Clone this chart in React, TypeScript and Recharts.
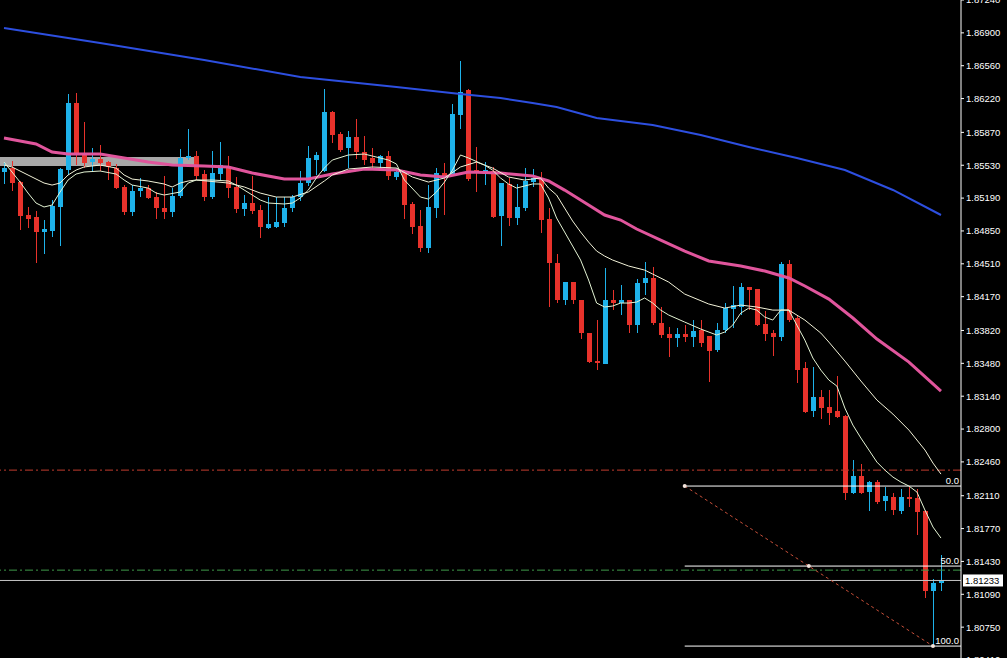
import { Bar, ComposedChart, Line, ReferenceArea, ReferenceDot, ReferenceLine, XAxis, YAxis } from "recharts";

const BULL = "#1eb2ea";
const BEAR = "#e8322b";
const FONT = "'Liberation Sans', Arial, sans-serif";

// OHLC, one entry per bar
const opens = [
  1.8546, 1.85501, 1.85356, 1.85015, 1.84994, 1.84839, 1.84849, 1.85098, 1.85481, 1.86174,
  1.85656, 1.85563, 1.85594, 1.85563, 1.85501, 1.85305, 1.85046, 1.85263, 1.85294, 1.85201,
  1.85087, 1.85046, 1.85211, 1.85605, 1.85625, 1.85439, 1.85201, 1.85439, 1.85522, 1.85305,
  1.85077, 1.85139, 1.85067, 1.8488, 1.84891, 1.84932, 1.85087, 1.85201, 1.85346, 1.85584,
  1.8547, 1.86081, 1.85853, 1.85708, 1.85822, 1.85667, 1.85605, 1.85553, 1.85625, 1.85408,
  1.8547, 1.85129, 1.84901, 1.84673, 1.85087, 1.85449, 1.85429, 1.8605, 1.86309, 1.85481,
  1.85439, 1.8547, 1.85004, 1.85336, 1.84984, 1.85087, 1.85356, 1.85398, 1.84973, 1.84518,
  1.84135, 1.84321, 1.84135, 1.83793, 1.83504, 1.83473, 1.84135, 1.84104, 1.84135, 1.83876,
  1.84311, 1.84363, 1.83897, 1.83783, 1.83742, 1.83783, 1.83752, 1.83825, 1.83762, 1.83618,
  1.83825, 1.84042, 1.84063, 1.8427, 1.84249, 1.83887, 1.83793, 1.83752, 1.84508, 1.83949,
  1.83431, 1.82986, 1.83131, 1.83028, 1.82986, 1.82934, 1.82137, 1.82313, 1.82148, 1.82251,
  1.82055, 1.82096, 1.81951, 1.82096, 1.82086, 1.81951, 1.81123, 1.81206,
];
const highs = [
  1.85563, 1.85574, 1.85367, 1.85098, 1.85056, 1.84963, 1.8517, 1.85501, 1.86267, 1.86277,
  1.85977, 1.85708, 1.85739, 1.85574, 1.85543, 1.85325, 1.85325, 1.85398, 1.85325, 1.85253,
  1.85418, 1.85294, 1.85698, 1.85905, 1.85677, 1.85481, 1.85677, 1.8577, 1.85625, 1.85408,
  1.85222, 1.85418, 1.85118, 1.85201, 1.85201, 1.85201, 1.85222, 1.8547, 1.85729, 1.85667,
  1.86319, 1.86091, 1.85874, 1.85884, 1.86008, 1.85832, 1.85708, 1.85636, 1.85677, 1.85501,
  1.85481, 1.85149, 1.85067, 1.85325, 1.85501, 1.85553, 1.86164, 1.86609, 1.86319, 1.85719,
  1.85563, 1.85512, 1.85346, 1.85398, 1.85336, 1.85501, 1.85491, 1.8546, 1.85087, 1.84611,
  1.84321, 1.84321, 1.84135, 1.83793, 1.83928, 1.84466, 1.84238, 1.8429, 1.84135, 1.84352,
  1.84528, 1.84477, 1.84063, 1.83856, 1.83845, 1.83876, 1.83928, 1.83928, 1.83762, 1.83897,
  1.84104, 1.8428, 1.84311, 1.8427, 1.84249, 1.84021, 1.83825, 1.84528, 1.84549, 1.83969,
  1.83493, 1.83442, 1.83204, 1.83204, 1.83348, 1.82945, 1.82479, 1.82438, 1.82262, 1.82272,
  1.822, 1.82137, 1.82179, 1.822, 1.82179, 1.81962, 1.81247, 1.81496,
];
const lows = [
  1.85336, 1.85263, 1.8486, 1.8488, 1.84518, 1.84611, 1.84787, 1.84694, 1.85429, 1.85532,
  1.85501, 1.8546, 1.8547, 1.85377, 1.85284, 1.85015, 1.85004, 1.85201, 1.8518, 1.84973,
  1.84973, 1.84994, 1.85191, 1.85584, 1.85377, 1.8516, 1.8518, 1.85377, 1.85191, 1.85035,
  1.85004, 1.85025, 1.84777, 1.8487, 1.8488, 1.84891, 1.85046, 1.8516, 1.85315, 1.85429,
  1.8546, 1.8576, 1.85667, 1.85501, 1.85594, 1.85532, 1.85501, 1.85501, 1.85377, 1.85377,
  1.84973, 1.84818, 1.84632, 1.84621, 1.84984, 1.85015, 1.85418, 1.85905, 1.85367, 1.85253,
  1.85325, 1.84984, 1.84694, 1.84901, 1.84911, 1.85056, 1.85305, 1.84828, 1.84063, 1.84104,
  1.84083, 1.84094, 1.83731, 1.83483, 1.8341, 1.83473, 1.84032, 1.8398, 1.83793, 1.83793,
  1.84187, 1.83876, 1.83742, 1.83545, 1.83649, 1.837, 1.83649, 1.83649, 1.83286, 1.83597,
  1.83793, 1.83845, 1.8398, 1.84032, 1.83866, 1.83711, 1.83555, 1.83711, 1.83907, 1.83276,
  1.82965, 1.82924, 1.82903, 1.82841, 1.82914, 1.82065, 1.82127, 1.82127, 1.81951, 1.82024,
  1.81951, 1.8191, 1.8192, 1.81993, 1.81703, 1.81051, 1.80554, 1.81123,
];
const closes = [
  1.85501, 1.85346, 1.85004, 1.84973, 1.84839, 1.8487, 1.85108, 1.85491, 1.86174, 1.85656,
  1.85553, 1.85594, 1.85553, 1.85512, 1.85294, 1.85046, 1.85263, 1.85294, 1.85191, 1.85087,
  1.85046, 1.85211, 1.85605, 1.85625, 1.85418, 1.85201, 1.85449, 1.85532, 1.85294, 1.85077,
  1.85139, 1.85056, 1.84891, 1.84922, 1.84942, 1.85087, 1.85201, 1.85346, 1.85605, 1.85636,
  1.86081, 1.85843, 1.85688, 1.85822, 1.85667, 1.85584, 1.85553, 1.85625, 1.85418, 1.8546,
  1.85118, 1.84891, 1.84673, 1.85098, 1.85449, 1.85418, 1.8606, 1.86288, 1.85387, 1.85449,
  1.85481, 1.84994, 1.85346, 1.84984, 1.85098, 1.85367, 1.85398, 1.84963, 1.84518, 1.84135,
  1.84321, 1.84135, 1.83793, 1.83493, 1.83483, 1.84135, 1.84104, 1.84135, 1.83876, 1.84311,
  1.84363, 1.83897, 1.83773, 1.83742, 1.83783, 1.83752, 1.83814, 1.8369, 1.83607, 1.83825,
  1.84052, 1.84083, 1.8427, 1.84238, 1.83876, 1.83783, 1.83752, 1.84508, 1.83928, 1.8341,
  1.82976, 1.83131, 1.83017, 1.82965, 1.82924, 1.82137, 1.82313, 1.82137, 1.82251, 1.82044,
  1.82106, 1.81962, 1.82096, 1.82075, 1.81941, 1.81123, 1.81206, 1.81233,
];

// moving averages, [bar index, price] read at points along each line
const blueMa: [number, number][] = [
  [0, 1.8695], [12, 1.86795], [25, 1.86619], [37, 1.86443], [49, 1.8634], [57, 1.86267],
  [62, 1.86226], [66, 1.86174], [69, 1.86133], [74, 1.86019], [81, 1.85946], [87, 1.85843],
  [93, 1.85719], [99, 1.85605], [105, 1.85481], [111, 1.85274], [117, 1.85015],
];
const pinkMa: [number, number][] = [
  [0, 1.85812], [4, 1.8575], [6, 1.85667], [8, 1.85646], [12, 1.85646], [15, 1.85605],
  [18, 1.85563], [21, 1.85532], [25, 1.85522], [28, 1.85512], [31, 1.85449], [35, 1.85387],
  [38, 1.85387], [41, 1.85439], [45, 1.85491], [49, 1.85481], [52, 1.85429], [55, 1.85408],
  [58, 1.8546], [62, 1.85449], [66, 1.85418], [68, 1.85367], [70, 1.85273], [73, 1.85118],
  [75, 1.85015], [77, 1.84963], [79, 1.8487], [82, 1.84756], [85, 1.84642], [88, 1.84539],
  [92, 1.84487], [95, 1.84435], [98, 1.84363], [100, 1.8428], [103, 1.84145], [106, 1.83949],
  [109, 1.83731], [113, 1.83493], [117, 1.83193],
];
const fastMa: [number, number][] = [
  [0, 1.85563], [1, 1.8546], [2, 1.85356], [3, 1.85242], [4, 1.85139], [5, 1.85098], [6, 1.85118],
  [7, 1.85253], [8, 1.85377], [9, 1.85439], [10, 1.8546], [12, 1.8547], [14, 1.85439], [15, 1.85377],
  [16, 1.85325], [18, 1.85294], [19, 1.85242], [20, 1.85222], [22, 1.85253], [23, 1.85346],
  [24, 1.85377], [26, 1.85377], [28, 1.85367], [29, 1.85325], [31, 1.85222], [32, 1.8517],
  [33, 1.85139], [35, 1.85129], [36, 1.85139], [37, 1.85191], [38, 1.85273], [39, 1.85398],
  [40, 1.85501], [41, 1.85584], [43, 1.85636], [45, 1.85646], [46, 1.85625], [48, 1.85584],
  [49, 1.85543], [50, 1.85377], [52, 1.85201], [53, 1.8518], [54, 1.85253], [55, 1.85356],
  [56, 1.8548], [57, 1.85636], [58, 1.85605], [60, 1.85532], [61, 1.8548], [62, 1.85398],
  [63, 1.85336], [64, 1.85294], [65, 1.85315], [66, 1.85336], [67, 1.85336], [68, 1.85191],
  [69, 1.84984], [70, 1.84839], [71, 1.84694], [72, 1.84549], [73, 1.84342], [74, 1.84104],
  [75, 1.84063], [76, 1.84073], [77, 1.84104], [78, 1.84104], [79, 1.84114], [80, 1.84156],
  [81, 1.84104], [82, 1.84031], [83, 1.8398], [85, 1.83907], [87, 1.83835], [89, 1.83773],
  [90, 1.83804], [91, 1.83876], [92, 1.84], [93, 1.84052], [94, 1.84031], [95, 1.83959],
  [96, 1.83928], [97, 1.84031], [98, 1.84031], [99, 1.83876], [100, 1.83721], [101, 1.83535],
  [102, 1.8341], [103, 1.83307], [104, 1.83245], [105, 1.83017], [106, 1.82841], [107, 1.82707],
  [108, 1.82583], [109, 1.82458], [110, 1.82375], [111, 1.82303], [112, 1.82251], [113, 1.8221],
  [114, 1.82148], [115, 1.81961], [116, 1.81786], [117, 1.81672],
];
const slowMa: [number, number][] = [
  [0, 1.85532], [1, 1.85512], [3, 1.85429], [5, 1.85346], [6, 1.85325], [7, 1.85346], [8, 1.85429],
  [9, 1.8548], [10, 1.85512], [12, 1.85532], [14, 1.85501], [15, 1.85429], [16, 1.85387],
  [18, 1.85367], [20, 1.85336], [21, 1.85305], [22, 1.85346], [23, 1.85367], [24, 1.85377],
  [28, 1.85346], [30, 1.85305], [32, 1.85242], [34, 1.85201], [36, 1.85201], [38, 1.85253],
  [40, 1.85367], [41, 1.85429], [43, 1.85491], [46, 1.85512], [49, 1.85501], [51, 1.85408],
  [53, 1.85356], [55, 1.85398], [57, 1.85512], [59, 1.85563], [61, 1.85501], [63, 1.85408],
  [65, 1.85377], [67, 1.85398], [68, 1.85294], [69, 1.85222], [70, 1.85087], [71, 1.84953],
  [72, 1.84839], [73, 1.84735], [74, 1.84642], [75, 1.8459], [76, 1.84549], [78, 1.84487],
  [80, 1.84445], [81, 1.84404], [83, 1.84321], [85, 1.84197], [88, 1.84094], [90, 1.84052],
  [92, 1.84083], [94, 1.84063], [96, 1.84031], [98, 1.84031], [100, 1.83928], [102, 1.83793],
  [103, 1.837], [105, 1.83504], [107, 1.83297], [109, 1.831], [111, 1.82955], [113, 1.82789],
  [115, 1.82583], [116, 1.82448], [117, 1.82334],
];

const priceTicks = [
  1.8724, 1.869, 1.8656, 1.8622, 1.8587, 1.8553, 1.8519, 1.8485, 1.8451, 1.8417, 1.8382,
  1.8348, 1.8314, 1.828, 1.8246, 1.8211, 1.8177, 1.8143, 1.8109, 1.8075, 1.8041,
];

const fibLabels = ["0.0", "50.0", "100.0"];
const fibPrices = [1.8221, 1.81382, 1.80554];
const fibStart = 85;
const fibEnd = 116;
const redLevel = 1.82375;
const greenLevel = 1.8134;
const zoneTop = 1.85615;
const zoneBottom = 1.85522;
const zoneEnd = 24.1;
const lastPrice = closes[closes.length - 1];

const rows: any[] = opens.map((o, i) => ({
  i,
  o,
  h: highs[i],
  l: lows[i],
  c: closes[i],
  range: [lows[i], highs[i]],
  blue: null,
  pink: null,
  fast: null,
  slow: null,
}));
blueMa.forEach(([i, v]) => (rows[i].blue = v));
pinkMa.forEach(([i, v]) => (rows[i].pink = v));
fastMa.forEach(([i, v]) => (rows[i].fast = v));
slowMa.forEach(([i, v]) => (rows[i].slow = v));

function Candle(props: any) {
  const { x, y, width, height, payload } = props;
  if (!payload || x == null || y == null) return null;
  const top = Math.min(y, y + height);
  const span = Math.abs(height);
  const { o, h, l, c } = payload;
  const toY = (v: number) => top + ((h - v) / (h - l)) * span;
  const color = c >= o ? BULL : BEAR;
  const cx = Math.floor(x + width / 2) + 0.5;
  const bodyTop = toY(Math.max(o, c));
  const bodyBottom = toY(Math.min(o, c));
  return (
    <g shapeRendering="crispEdges">
      <line x1={cx} x2={cx} y1={top} y2={top + span} stroke={color} strokeWidth={1} />
      <rect x={cx - 2.5} y={bodyTop} width={5} height={Math.max(bodyBottom - bodyTop, 1)} fill={color} />
    </g>
  );
}

function PriceTag(props: any) {
  const { viewBox } = props;
  if (!viewBox) return null;
  const x = viewBox.x + viewBox.width + 2;
  const y = viewBox.y;
  return (
    <g>
      <rect x={x} y={y - 6} width={40} height={12} fill="#ffffff" />
      <text x={x + 2} y={y} dy="0.36em" fontSize={9.5} fontFamily={FONT} fill="#000000">
        {lastPrice.toFixed(5)}
      </text>
    </g>
  );
}

export default function App() {
  return (
    <div style={{ position: "fixed", top: 0, left: 0, width: 1007, height: 658, overflow: "hidden", background: "#000" }}>
      <ComposedChart width={1007} height={660} data={rows} margin={{ top: 0, right: 0, bottom: 0, left: 0 }}>
        <XAxis dataKey="i" type="number" domain={[-0.5, 119.5]} allowDataOverflow hide />
        <YAxis
          orientation="right"
          width={46}
          domain={[1.8041, 1.8724]}
          allowDataOverflow
          ticks={priceTicks}
          interval={0}
          tickFormatter={(v: number) => v.toFixed(5)}
          tick={{ fill: "#ffffff", fontSize: 9.5, fontFamily: FONT }}
          axisLine={{ stroke: "#ffffff" }}
          tickLine={{ stroke: "#ffffff" }}
          tickSize={3}
          tickMargin={2}
        />
        <ReferenceArea x1={-0.5} x2={zoneEnd} y1={zoneBottom} y2={zoneTop} fill="#a8a8a8" fillOpacity={1} stroke="none" />
        <ReferenceLine y={redLevel} stroke="#c23b2e" strokeDasharray="8 3 2 3" />
        <ReferenceLine y={greenLevel} stroke="#3f9a4a" strokeDasharray="8 3 2 3" />
        <ReferenceLine y={lastPrice} stroke="#c4c4c4" label={<PriceTag />} />
        {fibPrices.map((p, k) => (
          <ReferenceLine
            key={fibLabels[k]}
            segment={[
              { x: fibStart, y: p },
              { x: 119.5, y: p },
            ]}
            stroke="#ffffff"
            label={{ value: fibLabels[k], position: "insideBottomRight", offset: 2, fill: "#ffffff", fontSize: 9.5, fontFamily: FONT }}
          />
        ))}
        <ReferenceLine
          segment={[
            { x: fibStart, y: fibPrices[0] },
            { x: fibEnd, y: fibPrices[2] },
          ]}
          stroke="#c8503a"
          strokeDasharray="3 3"
        />
        <Bar dataKey="range" shape={Candle} activeBar={false} barSize={5} isAnimationActive={false} />
        <Line dataKey="blue" stroke="#2d4fe0" strokeWidth={2} dot={false} activeDot={false} connectNulls isAnimationActive={false} />
        <Line dataKey="pink" stroke="#e0559c" strokeWidth={3} dot={false} activeDot={false} connectNulls isAnimationActive={false} />
        <Line dataKey="slow" stroke="#f2f2d8" strokeWidth={1} dot={false} activeDot={false} connectNulls isAnimationActive={false} />
        <Line dataKey="fast" stroke="#e4f4d4" strokeWidth={1} dot={false} activeDot={false} connectNulls isAnimationActive={false} />
        <ReferenceDot x={fibStart} y={fibPrices[0]} r={2} fill="#f4e4dc" stroke="none" />
        <ReferenceDot x={(fibStart + fibEnd) / 2} y={fibPrices[1]} r={2} fill="#f4e4dc" stroke="none" />
        <ReferenceDot x={fibEnd} y={fibPrices[2]} r={2} fill="#f4e4dc" stroke="none" />
      </ComposedChart>
    </div>
  );
}
